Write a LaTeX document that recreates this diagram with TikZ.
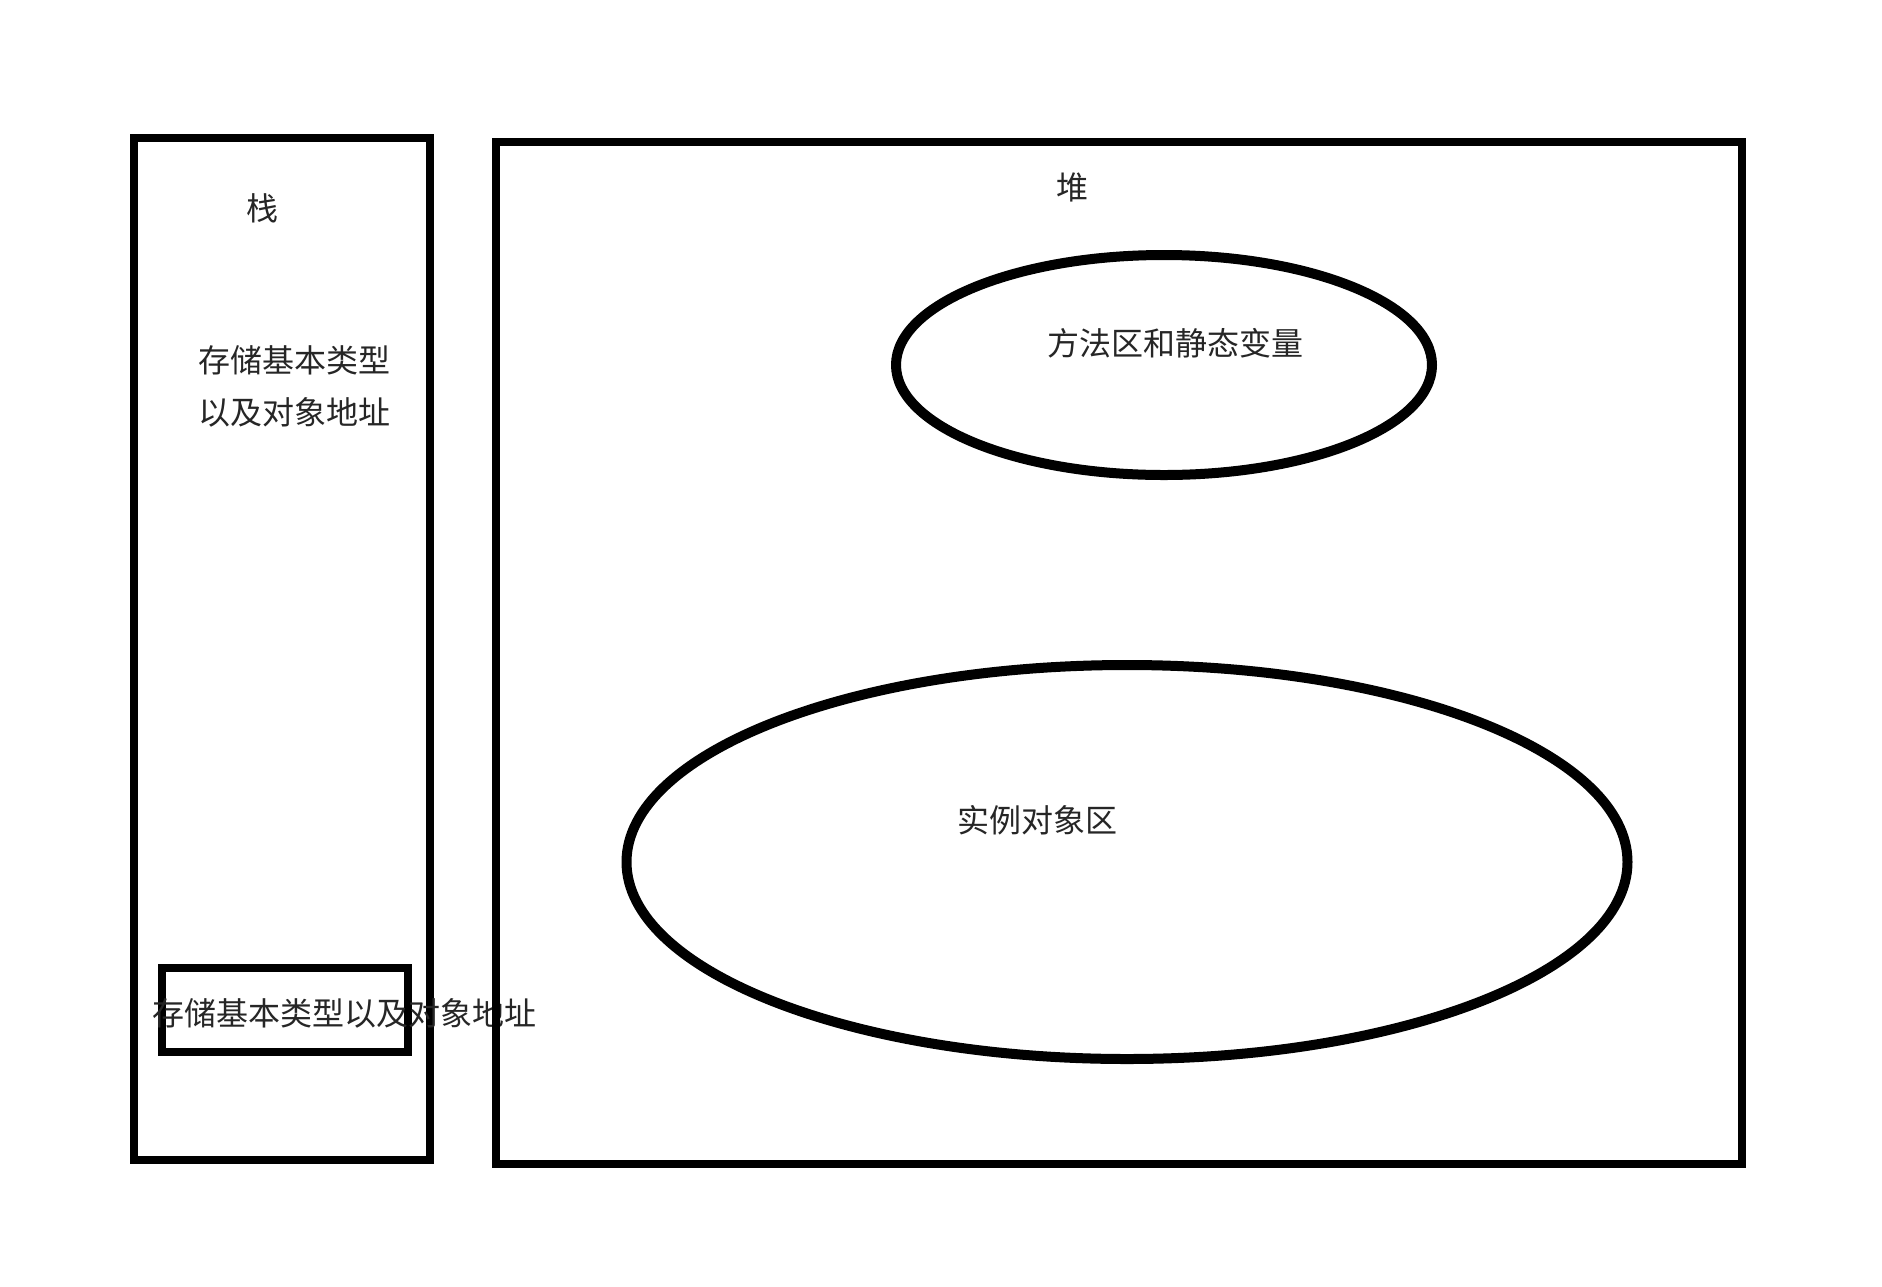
\documentclass[tikz,border=0pt]{standalone}
\usepackage{fontspec}
\setmainfont{Noto Sans CJK SC}
\usetikzlibrary{shapes.geometric}
\begin{document}
\begin{tikzpicture}[x=1pt,y=-1pt,
  box/.style={draw=black,line width=7.5pt,rectangle,inner sep=0pt,outer sep=0pt},
  oval/.style={draw=black,line width=10pt,ellipse,inner sep=0pt,outer sep=0pt},
  txt/.style={inner sep=0pt,font=\fontsize{32pt}{52pt}\selectfont,align=center,text=black!85}]
\useasboundingbox[fill=white] (0,0) rectangle (1882,1286);
% stack
\node[box,minimum width=296pt,minimum height=1022pt] (stack) at (282,649) {};
\node[txt] (stacklabel) at (262,208) {栈};
\node[txt] (stacktext) at (294,386) {存储基本类型\\以及对象地址};
\node[box,minimum width=246pt,minimum height=84pt] (frame) at (285,1010) {};
\node[txt] (frametext) at (344,1013) {存储基本类型以及对象地址};
% heap
\node[box,minimum width=1246pt,minimum height=1022pt] (heap) at (1119,653) {};
\node[txt] (heaplabel) at (1072,187) {堆};
\node[oval,minimum width=536pt,minimum height=220pt] (method) at (1164,365) {};
\node[txt] (methodtext) at (1175,343) {方法区和静态变量};
\node[oval,minimum width=1001pt,minimum height=394pt] (inst) at (1127,862) {};
\node[txt] (insttext) at (1037,820) {实例对象区};
\end{tikzpicture}
\end{document}
